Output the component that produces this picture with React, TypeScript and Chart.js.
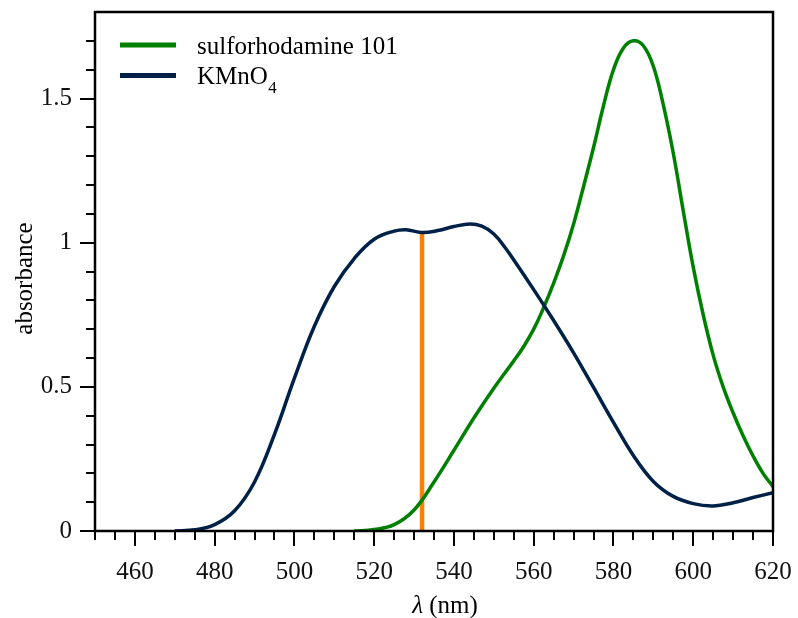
import { useEffect, useRef } from 'react';
import { Chart, registerables } from 'chart.js';

Chart.register(...registerables);

// ---- data ----
const sulfoLabel = 'sulforhodamine 101';
const sulfoWavelengths = [515, 520, 525, 530, 535, 540, 545, 550, 555, 557.5, 560, 562.5, 565, 567.5, 570, 572.5, 575, 577.5, 580, 582.5, 585, 587.5, 590, 592.5, 595, 597.5, 600, 602.5, 605, 607.5, 610, 612.5, 615, 617.5, 620];
const sulfoAbsorbance = [0, 0.005, 0.022, 0.073, 0.17, 0.28, 0.392, 0.495, 0.59, 0.64, 0.7, 0.775, 0.86, 0.955, 1.065, 1.195, 1.33, 1.475, 1.6, 1.675, 1.7, 1.683, 1.612, 1.478, 1.31, 1.11, 0.915, 0.75, 0.61, 0.5, 0.41, 0.33, 0.26, 0.2, 0.154];

const kmnoLabel = 'KMnO';
const kmnoSubscript = '4';
const kmnoWavelengths = [470, 475, 480, 485, 490, 495, 500, 505, 510, 515, 520, 525, 528, 532, 536, 540, 544, 547, 550, 553, 556, 560, 565, 570, 575, 580, 585, 590, 595, 600, 605, 610, 615, 620];
const kmnoAbsorbance = [0, 0.004, 0.022, 0.07, 0.17, 0.335, 0.53, 0.71, 0.848, 0.945, 1.012, 1.04, 1.045, 1.035, 1.042, 1.056, 1.065, 1.057, 1.03, 0.98, 0.92, 0.837, 0.73, 0.618, 0.498, 0.377, 0.262, 0.172, 0.12, 0.095, 0.087, 0.098, 0.116, 0.133];

const laserWavelengths = [532, 532];
const laserAbsorbance = [0, 1.03];

const xMin = 450;
const xMax = 620;
const yMin = 0;
const yMax = 1.8;
const xTickValues = [460, 480, 500, 520, 540, 560, 580, 600, 620];
const yTickValues = [0, 0.5, 1, 1.5];
const xMinorStep = 5;
const yMinorStep = 0.1;

const xTitleItalic = 'λ';
const xTitleRest = ' (nm)';
const yTitle = 'absorbance';

const FONT = '"Liberation Serif", "Times New Roman", serif';
const FONT_SIZE = 25;
const GREEN = '#008000';
const NAVY = '#002147';
const ORANGE = '#ff8000';

const toPoints = (xs: number[], ys: number[]) => xs.map((x, i) => ({ x, y: ys[i] }));

const framePlugin = {
  id: 'frame',
  afterDatasetsDraw(chart: any) {
    const { ctx, chartArea: a } = chart;
    const xs = chart.scales.x;
    const ys = chart.scales.y;
    ctx.save();
    ctx.strokeStyle = '#000';
    ctx.lineWidth = 2;
    // x ticks
    const nX = Math.round((xMax - xMin) / xMinorStep);
    for (let i = 0; i <= nX; i++) {
      const v = xMin + i * xMinorStep;
      const px = Math.round(xs.getPixelForValue(v));
      const major = xTickValues.includes(v);
      ctx.beginPath();
      ctx.moveTo(px, a.bottom);
      ctx.lineTo(px, a.bottom + (major ? 15 : 9));
      ctx.stroke();
    }
    // y ticks
    const nY = Math.round((yMax - yMin) / yMinorStep);
    for (let i = 0; i < nY; i++) {
      const v = Math.round((yMin + i * yMinorStep) * 10) / 10;
      const py = Math.round(ys.getPixelForValue(v));
      const major = yTickValues.includes(v);
      ctx.beginPath();
      ctx.moveTo(a.left, py);
      ctx.lineTo(a.left - (major ? 15 : 9), py);
      ctx.stroke();
    }
    // frame
    ctx.lineWidth = 2.5;
    ctx.strokeRect(a.left, a.top, a.right - a.left, a.bottom - a.top);

    // legend
    const legendItems = chart.data.datasets.filter((d: any) => d.label);
    legendItems.forEach((d: any, i: number) => {
      const lineY = a.top + 33 + i * 30.5;
      ctx.strokeStyle = d.borderColor;
      ctx.lineWidth = 5;
      ctx.beginPath();
      ctx.moveTo(a.left + 25, lineY);
      ctx.lineTo(a.left + 81, lineY);
      ctx.stroke();
      ctx.fillStyle = '#000';
      ctx.textAlign = 'left';
      ctx.textBaseline = 'alphabetic';
      ctx.font = `${FONT_SIZE}px ${FONT}`;
      const tx = a.left + 102;
      const ty = lineY + 8.5;
      ctx.fillText(d.label, tx, ty);
      if (d.subscript) {
        const w = ctx.measureText(d.label).width;
        ctx.font = `17px ${FONT}`;
        ctx.fillText(d.subscript, tx + w + 0.5, ty + 9);
      }
    });

    // x title
    ctx.fillStyle = '#000';
    ctx.textBaseline = 'alphabetic';
    ctx.textAlign = 'left';
    ctx.font = `italic ${FONT_SIZE}px ${FONT}`;
    const w1 = ctx.measureText(xTitleItalic).width;
    ctx.font = `${FONT_SIZE}px ${FONT}`;
    const w2 = ctx.measureText(xTitleRest).width;
    const cx = (a.left + a.right) / 2 + 11;
    const startX = cx - (w1 + w2) / 2;
    ctx.font = `italic ${FONT_SIZE}px ${FONT}`;
    ctx.fillText(xTitleItalic, startX, a.bottom + 82);
    ctx.font = `${FONT_SIZE}px ${FONT}`;
    ctx.fillText(xTitleRest, startX + w1, a.bottom + 82);

    // y title
    ctx.translate(32, (a.top + a.bottom) / 2 + 7);
    ctx.rotate(-Math.PI / 2);
    ctx.textAlign = 'center';
    ctx.fillText(yTitle, 0, 0);
    ctx.restore();
  },
};

const zeroPad = (s: any) => {
  s.paddingLeft = 0;
  s.paddingRight = 0;
  s.paddingTop = 0;
  s.paddingBottom = 0;
};

export default function App() {
  const canvasRef = useRef<HTMLCanvasElement | null>(null);

  useEffect(() => {
    document.body.style.margin = '0';
    const canvas = canvasRef.current;
    if (!canvas) return;
    const chart = new Chart(canvas, {
      type: 'line',
      data: {
        datasets: [
          {
            label: sulfoLabel,
            data: toPoints(sulfoWavelengths, sulfoAbsorbance),
            borderColor: GREEN,
            borderWidth: 3.5,
            pointRadius: 0,
            tension: 0.4,
            fill: false,
            order: 2,
          } as any,
          {
            label: kmnoLabel,
            subscript: kmnoSubscript,
            data: toPoints(kmnoWavelengths, kmnoAbsorbance),
            borderColor: NAVY,
            borderWidth: 3.5,
            pointRadius: 0,
            tension: 0.4,
            fill: false,
            order: 1,
          } as any,
          {
            label: '',
            data: toPoints(laserWavelengths, laserAbsorbance),
            borderColor: ORANGE,
            borderWidth: 4.5,
            borderCapStyle: 'butt',
            pointRadius: 0,
            fill: false,
            order: 3,
          } as any,
        ],
      },
      options: {
        animation: false,
        responsive: false,
        maintainAspectRatio: false,
        layout: { padding: { top: 12, right: 25, left: 0, bottom: 0 } },
        plugins: {
          legend: { display: false },
          tooltip: { enabled: false },
        },
        scales: {
          x: {
            type: 'linear',
            min: xMin,
            max: xMax,
            grid: { display: false, drawTicks: false },
            border: { display: false },
            ticks: {
              color: '#111',
              font: { family: FONT, size: FONT_SIZE },
              padding: 26,
              maxRotation: 0,
              autoSkip: false,
              callback: (v: any) => String(v),
            },
            afterBuildTicks: (s: any) => {
              s.ticks = xTickValues.map((v) => ({ value: v }));
            },
            afterFit: (s: any) => {
              s.height = 87;
              zeroPad(s);
            },
          },
          y: {
            type: 'linear',
            min: yMin,
            max: yMax,
            grid: { display: false, drawTicks: false },
            border: { display: false },
            ticks: {
              color: '#111',
              font: { family: FONT, size: FONT_SIZE },
              padding: 23,
              autoSkip: false,
              callback: (v: any) => String(v),
            },
            afterBuildTicks: (s: any) => {
              s.ticks = yTickValues.map((v) => ({ value: v }));
            },
            afterFit: (s: any) => {
              s.width = 95;
              zeroPad(s);
            },
          },
        },
      },
      plugins: [framePlugin],
    });
    return () => chart.destroy();
  }, []);

  return (
    <div style={{ width: 798, height: 618, position: 'relative' }}>
      <canvas ref={canvasRef} width={798} height={618} style={{ display: 'block' }} />
    </div>
  );
}
